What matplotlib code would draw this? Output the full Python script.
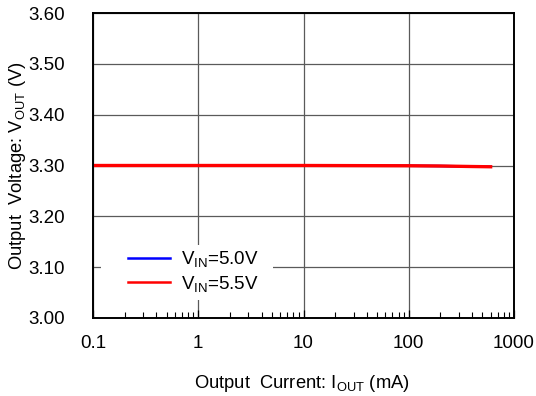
import matplotlib
matplotlib.use('Agg')
import matplotlib.pyplot as plt
from matplotlib.patches import Rectangle
from matplotlib.ticker import LogLocator, FixedLocator, FuncFormatter

plt.rcParams['font.family'] = ['Liberation Sans', 'DejaVu Sans']
plt.rcParams['mathtext.fontset'] = 'custom'
plt.rcParams['mathtext.rm'] = 'Liberation Sans'
plt.rcParams['mathtext.it'] = 'Liberation Sans'

# output current (mA) and output voltage (V)
iout = [0.1, 1, 10, 100, 200, 400, 600]
vout_50 = [3.300, 3.300, 3.300, 3.2995, 3.299, 3.298, 3.2975]
vout_55 = [3.300, 3.300, 3.300, 3.2995, 3.299, 3.298, 3.2975]

xticks = [0.1, 1, 10, 100, 1000]
xlabels = ['0.1', '1', '10', '100', '1000']
yticks = [3.00, 3.10, 3.20, 3.30, 3.40, 3.50, 3.60]

fig = plt.figure(figsize=(5.36, 3.96), dpi=100)
ax = fig.add_axes([93/536, 1 - 318/396, (514-93)/536, (318-13)/396])

ax.plot(iout, vout_50, color='#0000ff', lw=1.8, label=r'V$_{\mathrm{IN}}$=5.0V')
ax.plot(iout, vout_55, color='#ff0000', lw=2.4, label=r'V$_{\mathrm{IN}}$=5.5V')

ax.set_xscale('log')
ax.set_xlim(0.1, 1000)
ax.set_ylim(3.0, 3.6)
ax.xaxis.set_major_locator(FixedLocator(xticks))
ax.set_xticklabels(xlabels)
ax.xaxis.set_minor_locator(LogLocator(base=10, subs=range(2, 10), numticks=20))
ax.set_yticks(yticks)
ax.yaxis.set_major_formatter(FuncFormatter(lambda v, p: '%.2f' % v))

ax.grid(True, which='major', color='#5a5a5a', lw=0.9)
ax.set_axisbelow(True)
ax.tick_params(axis='x', which='major', direction='in', length=6, width=0.9, labelsize=13.5, pad=12)
ax.tick_params(axis='x', which='minor', direction='in', length=4, width=0.8)
ax.tick_params(axis='y', which='major', direction='in', length=0, labelsize=13.5, pad=20)
for s in ax.spines.values():
    s.set_linewidth(1.4)
    s.set_color('black')

ax.set_xlabel(r'Output  Current: I$_{\mathrm{OUT}}$ (mA)', fontsize=13.2)
ax.set_ylabel(r'Output  Voltage: V$_{\mathrm{OUT}}$ (V)', fontsize=13.2)
ax.xaxis.set_label_coords(0.495, -0.18)
ax.yaxis.set_label_coords(-0.154, 0.5)

# white patch behind the legend (hides grid lines)
ax.add_patch(Rectangle((0.019, 0.059), 0.409, 0.18, transform=ax.transAxes,
                       facecolor='white', edgecolor='none', zorder=1.5))

leg = ax.legend(loc='upper left', bbox_to_anchor=(0.083, 0.226), frameon=False,
                fontsize=13.5, handlelength=2.25, handletextpad=0.6,
                labelspacing=0.25, borderpad=0, borderaxespad=0)
for h in leg.get_lines():
    h.set_linewidth(1.8)

fig.savefig('out.png', dpi=100)
